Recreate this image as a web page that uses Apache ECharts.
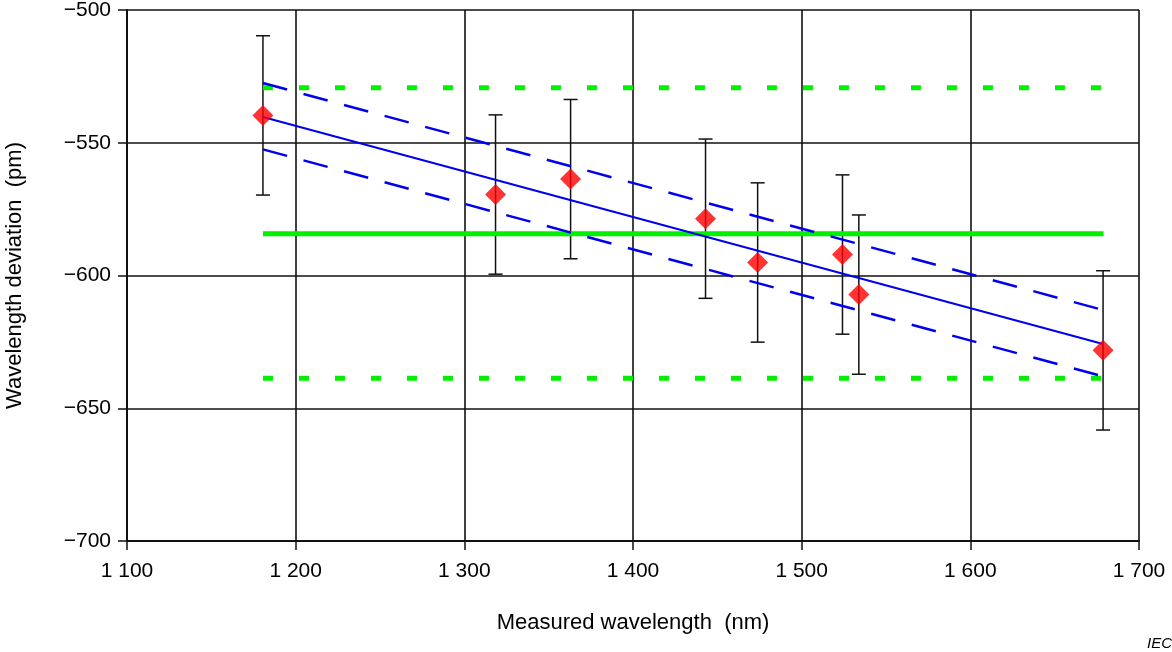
<!DOCTYPE html>
<html>
<head>
<meta charset="utf-8">
<script src="https://cdn.jsdelivr.net/npm/echarts@6/dist/echarts.min.js"></script>
<style>
  html, body { margin: 0; padding: 0; background: #fff; }
  #main { width: 1172px; height: 652px; }
</style>
</head>
<body>
<div id="main"></div>
<script>
// measured points
var wavelengths = [1180.6, 1318.5, 1363.0, 1443.0, 1473.9, 1524.2, 1533.9, 1678.7];
var deviations = [-539.7, -569.5, -563.7, -578.6, -595.1, -592.1, -607.2, -628.2];
var uncertainty = [30, 30, 30, 30, 30, 30, 30, 30];

// fitted line and its band
var fitX = [1180.6, 1678.7];
var fitY = [-540.3, -625.8];
var fitUpper = [-527.5, -613.0];
var fitLower = [-552.5, -638.0];

// mean and limits
var meanX = [1180.6, 1679.0];
var meanValue = -584.3;
var upperLimit = -529.3;
var lowerLimit = -638.7;

var xTicks = [1100, 1200, 1300, 1400, 1500, 1600, 1700];
var yTicks = [-700, -650, -600, -550, -500];

function pairs(xs, ys) {
    return xs.map(function (x, i) { return [x, ys[i]]; });
}
function flat(xs, v) {
    return xs.map(function (x) { return [x, v]; });
}

var errData = wavelengths.map(function (x, i) {
    return [x, deviations[i] - uncertainty[i], deviations[i] + uncertainty[i]];
});

var myChart = echarts.init(document.getElementById('main'));
var font = 'Liberation Sans, Arial, sans-serif';

var option = {
    animation: false,
    grid: { left: 127, right: 33, top: 10, bottom: 111, outerBoundsMode: 'none', containLabel: false },
    xAxis: {
        type: 'value',
        min: xTicks[0],
        max: xTicks[xTicks.length - 1],
        interval: 100,
        name: 'Measured wavelength  (nm)',
        nameLocation: 'middle',
        nameGap: 71,
        nameTextStyle: { fontFamily: font, fontSize: 22, color: '#000' },
        axisLine: { show: true, onZero: false, lineStyle: { color: '#111', width: 2 } },
        axisTick: { show: true, length: 9, lineStyle: { color: '#111', width: 1.5 } },
        axisLabel: {
            fontFamily: font, fontSize: 21, color: '#000', margin: 20,
            formatter: function (v) {
                var s = String(v);
                return s.length > 3 ? s.slice(0, s.length - 3) + ' ' + s.slice(-3) : s;
            }
        },
        splitLine: { show: true, lineStyle: { color: '#111', width: 1.6 } }
    },
    yAxis: {
        type: 'value',
        min: yTicks[0],
        max: yTicks[yTicks.length - 1],
        interval: 50,
        name: 'Wavelength deviation  (pm)',
        nameLocation: 'middle',
        nameGap: 101,
        nameTextStyle: { fontFamily: font, fontSize: 22, color: '#000' },
        axisLine: { show: true, onZero: false, lineStyle: { color: '#111', width: 2 } },
        axisTick: { show: true, length: 9, lineStyle: { color: '#111', width: 1.5 } },
        axisLabel: {
            fontFamily: font, fontSize: 21, color: '#000', margin: 16,
            formatter: function (v) { return String(v).replace('-', '\u2212'); }
        },
        splitLine: { show: true, lineStyle: { color: '#111', width: 1.6 } }
    },
    series: [
        {
            name: 'upper limit', type: 'line', data: flat(meanX, upperLimit),
            symbol: 'none', lineStyle: { color: '#00f000', width: 5, type: [10, 26] }
        },
        {
            name: 'lower limit', type: 'line', data: flat(meanX, lowerLimit),
            symbol: 'none', lineStyle: { color: '#00f000', width: 5, type: [10, 26] }
        },
        {
            name: 'mean', type: 'line', data: flat(meanX, meanValue),
            symbol: 'none', lineStyle: { color: '#00f000', width: 5 }
        },
        {
            name: 'fit', type: 'line', data: pairs(fitX, fitY),
            symbol: 'none', lineStyle: { color: '#0000f0', width: 2 }
        },
        {
            name: 'fit upper', type: 'line', data: pairs(fitX, fitUpper),
            symbol: 'none', lineStyle: { color: '#0000f0', width: 2.5, type: [25, 17] }
        },
        {
            name: 'fit lower', type: 'line', data: pairs(fitX, fitLower),
            symbol: 'none', lineStyle: { color: '#0000f0', width: 2.5, type: [25, 17] }
        },
        {
            name: 'error', type: 'custom', data: errData,
            renderItem: function (params, api) {
                var x = api.value(0);
                var lo = api.coord([x, api.value(1)]);
                var hi = api.coord([x, api.value(2)]);
                var w = 7;
                var st = { stroke: '#111', lineWidth: 1.5 };
                return {
                    type: 'group',
                    children: [
                        { type: 'line', shape: { x1: lo[0], y1: lo[1], x2: hi[0], y2: hi[1] }, style: st },
                        { type: 'line', shape: { x1: lo[0] - w, y1: lo[1], x2: lo[0] + w, y2: lo[1] }, style: st },
                        { type: 'line', shape: { x1: hi[0] - w, y1: hi[1], x2: hi[0] + w, y2: hi[1] }, style: st }
                    ]
                };
            },
            z: 3
        },
        {
            name: 'measured', type: 'scatter', data: pairs(wavelengths, deviations),
            symbol: 'diamond', symbolSize: [21, 21],
            itemStyle: { color: '#ff0000' }, z: 5
        }
    ],
    graphic: [
        {
            type: 'text', left: 1147, top: 636,
            style: { text: 'IEC', fontFamily: font, fontSize: 15, fontStyle: 'italic', fill: '#000' }
        }
    ]
};
myChart.setOption(option);
</script>
</body>
</html>
